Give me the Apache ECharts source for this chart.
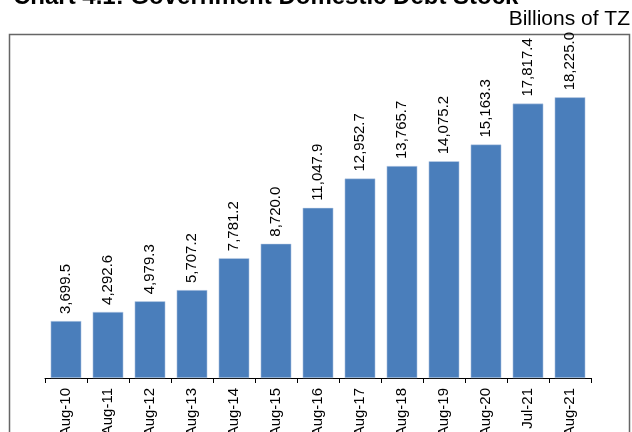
<!DOCTYPE html>
<html>
<head>
<meta charset="utf-8">
<script src="https://cdn.jsdelivr.net/npm/echarts@6/dist/echarts.min.js"></script>
<style>
html,body{margin:0;padding:0;background:#fff;}
#c{width:632px;height:432px;}
</style>
</head>
<body>
<div id="c"></div>
<script>
var categories = ['Aug-10','Aug-11','Aug-12','Aug-13','Aug-14','Aug-15','Aug-16','Aug-17','Aug-18','Aug-19','Aug-20','Jul-21','Aug-21'];
var debtStock = [3699.5, 4292.6, 4979.3, 5707.2, 7781.2, 8720.0, 11047.9, 12952.7, 13765.7, 14075.2, 15163.3, 17817.4, 18225.0];
var titleText = 'Chart 4.1: Government Domestic Debt Stock';
var unitText = 'Billions of TZ';

var FONT = '"Liberation Sans", Arial, sans-serif';
var chart = echarts.init(document.getElementById('c'), null, {renderer:'canvas'});
chart.setOption({
  animation: false,
  backgroundColor: '#fff',
  grid: {left: 45, right: 41, top: 70, bottom: 54, containLabel: false, outerBoundsMode: 'none'},
  xAxis: {
    type: 'category',
    data: categories,
    axisLine: {show: true, lineStyle: {color: '#000', width: 1}},
    axisTick: {show: true, length: 5, lineStyle: {color: '#000'}},
    axisLabel: {rotate: 90, margin: 10, fontSize: 15, color: '#000', fontFamily: FONT, interval: 0}
  },
  yAxis: {
    type: 'value', min: 0, max: 20000, show: false,
    splitLine: {show: false}
  },
  series: [{
    type: 'bar',
    data: debtStock,
    barWidth: '73%',
    itemStyle: {color: '#4A7EBB', borderColor: '#c9d6ea', borderWidth: 0.5},
    label: {
      show: true, position: 'top', rotate: 90, align: 'left', verticalAlign: 'middle',
      distance: 7, fontSize: 15, color: '#000', fontFamily: FONT,
      formatter: function(p){ return p.value.toLocaleString('en-US',{minimumFractionDigits:1, maximumFractionDigits:1}); }
    }
  }],
  graphic: [
    {type:'rect', shape:{x:9.5, y:34.5, width:620, height:420}, style:{fill:'none', stroke:'#666', lineWidth:1.5}, z:-1},
    {type:'text', left: 13, top: -15, style:{text: titleText, font: 'bold 24px ' + FONT, fill:'#000'}},
    {type:'text', right: 2, top: 9, style:{text: unitText, font: '21px ' + FONT, fill:'#000'}}
  ]
});
</script>
</body>
</html>
